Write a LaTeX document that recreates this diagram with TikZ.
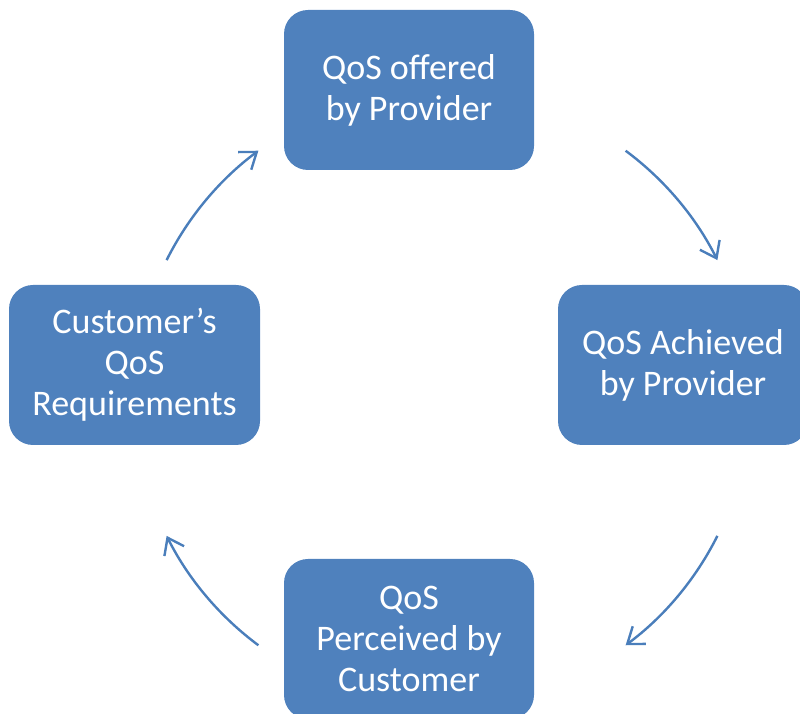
\documentclass[tikz,border=0pt]{standalone}
\usepackage{fontspec}
\setmainfont{Carlito}
\usetikzlibrary{arrows.meta,calc}
\definecolor{boxblue}{HTML}{4F81BD}
\definecolor{arcblue}{HTML}{4A7EBB}
\begin{document}
\begin{tikzpicture}[x=1pt,y=1pt,
  cyclebox/.style={fill=boxblue, draw=none, rounded corners=24pt,
    minimum width=250pt, minimum height=160pt, text=white, align=center,
    inner sep=0pt, font=\fontsize{36}{41}\selectfont},
  cyclearc/.style={draw=arcblue, line width=2.4pt,
    -{Straight Barb[length=15pt,width=22pt,line width=2.4pt]}}]
  \useasboundingbox (0,0) rectangle (800,714);
  \clip (0,0) rectangle (800,714);
  % the four stages
  \node[cyclebox] (offered) at (409,624) {QoS offered\\by Provider};
  \node[cyclebox] (achieved) at (683,349) {QoS Achieved\\by Provider};
  \node[cyclebox] (perceived) at (409,75) {QoS\\Perceived by\\Customer};
  \node[cyclebox, minimum width=251pt] (required) at (134.5,349) {Customer’s\\QoS\\Requirements};
  % arcs of the cycle
  \coordinate (hub) at (442,316);
  \coordinate (s1) at ($(hub)+(153.4:308pt)$);
  \coordinate (s2) at ($(hub)+(53.4:308pt)$);
  \coordinate (s3) at ($(hub)+(-26.6:308pt)$);
  \coordinate (s4) at ($(hub)+(-126.6:308pt)$);
  \draw[cyclearc] (s1) arc[start angle=153.4, end angle=126.6, radius=308pt];
  \draw[cyclearc] (s2) arc[start angle=53.4, end angle=26.6, radius=308pt];
  \draw[cyclearc] (s3) arc[start angle=-26.6, end angle=-53.4, radius=308pt];
  \draw[cyclearc] (s4) arc[start angle=-126.6, end angle=-153.4, radius=308pt];
\end{tikzpicture}
\end{document}
